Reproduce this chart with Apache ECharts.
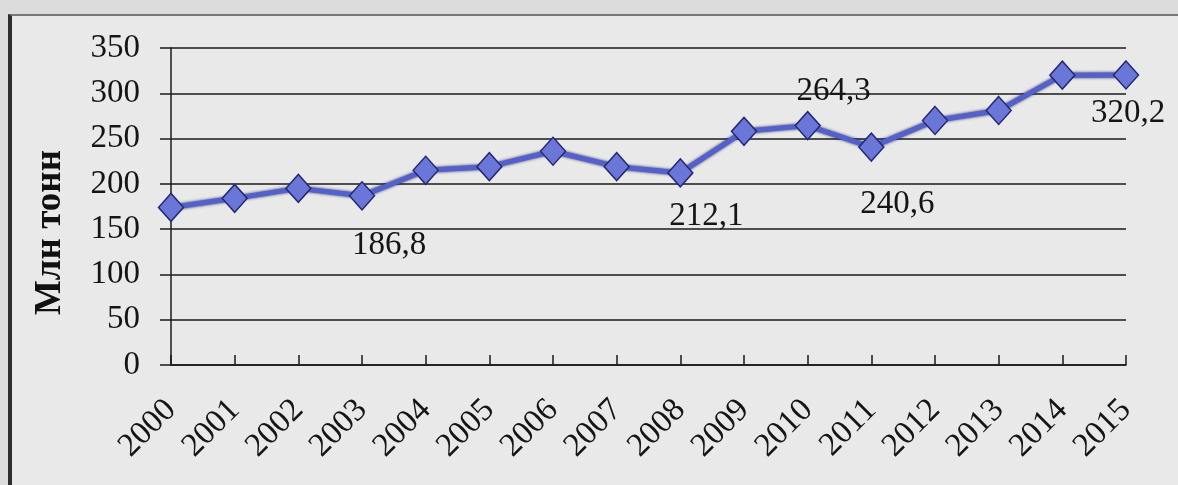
<!DOCTYPE html>
<html>
<head>
<meta charset="utf-8">
<script src="https://cdn.jsdelivr.net/npm/echarts@6/dist/echarts.min.js"></script>
<style>
  html, body { margin: 0; padding: 0; background: #dcdcdc; }
  #wrap { position: relative; width: 1178px; height: 485px; overflow: hidden; }
  #frame {
    position: absolute; left: 8px; top: 14px; width: 1170px; height: 480px;
    background: #e9e9e9; border-left: 4px solid #2e2e2e; border-top: 2px solid #777;
    box-sizing: border-box;
  }
  #main { position: absolute; left: 0; top: 0; width: 1178px; height: 485px; }
</style>
</head>
<body>
<div id="wrap">
  <div id="frame"></div>
  <div id="main"></div>
</div>
<script>
// years on the x axis
const years = ['2000', '2001', '2002', '2003', '2004', '2005', '2006', '2007',
  '2008', '2009', '2010', '2011', '2012', '2013', '2014', '2015']
// production, million tonnes (labelled points, others estimated)
const production = [174, 184, 195, 186.8, 215, 219, 236, 219,
  212.1, 258, 264.3, 240.6, 270, 281, 320, 320.2]
// indexes of points which carry a value label
const labelled = [3, 8, 10, 11, 15]

// label offsets from the marker centre
const labelOffset = {
  3: [27, 50],
  8: [26, 43],
  10: [26, -34],
  11: [26, 57],
  15: [2, 38]
}

const fmt = v => v.toFixed(1).replace('.', ',')

const chart = echarts.init(document.getElementById('main'))

chart.setOption({
  animation: false,
  textStyle: { fontFamily: 'Liberation Serif' },
  grid: { left: 171, right: 52, top: 48, bottom: 120 },
  xAxis: {
    type: 'category',
    data: years,
    boundaryGap: false,
    axisLine: { lineStyle: { color: '#1a1a1a', width: 1.5 } },
    axisTick: { show: true, inside: true, length: 10, lineStyle: { color: '#1a1a1a', width: 1.5 } },
    axisLabel: {
      rotate: 45, margin: 40, interval: 0,
      fontSize: 33, color: '#151515', fontFamily: 'Liberation Serif'
    },
    splitLine: { show: false }
  },
  yAxis: {
    type: 'value',
    min: 0, max: 350, interval: 50,
    axisLine: { show: true, lineStyle: { color: '#1a1a1a', width: 1.5 } },
    axisTick: { show: true, length: 11, lineStyle: { color: '#1a1a1a', width: 1.5 } },
    axisLabel: { margin: 31, fontSize: 33, color: '#151515', fontFamily: 'Liberation Serif' },
    splitLine: { lineStyle: { color: '#1a1a1a', width: 1.5 } }
  },
  graphic: [{
    type: 'text',
    left: 32, top: 150,
    rotation: Math.PI / 2,
    style: {
      text: 'Млн тонн',
      font: 'bold 37px "Liberation Serif"',
      fill: '#111'
    }
  }],
  series: [{
    type: 'line',
    data: production.map((v, i) => labelled.includes(i)
      ? { value: v, label: { show: true, offset: labelOffset[i] } }
      : v),
    symbol: 'diamond',
    symbolSize: [25, 28],
    lineStyle: {
      color: '#5461cc', width: 5,
      shadowColor: 'rgba(20,24,90,0.95)', shadowBlur: 3
    },
    itemStyle: { color: '#6a76d8', borderColor: '#242a72', borderWidth: 1.5 },
    label: {
      show: false,
      position: 'inside',
      formatter: p => fmt(p.value),
      fontSize: 33,
      color: '#151515',
      fontFamily: 'Liberation Serif'
    },
    z: 3
  }]
})
</script>
</body>
</html>
